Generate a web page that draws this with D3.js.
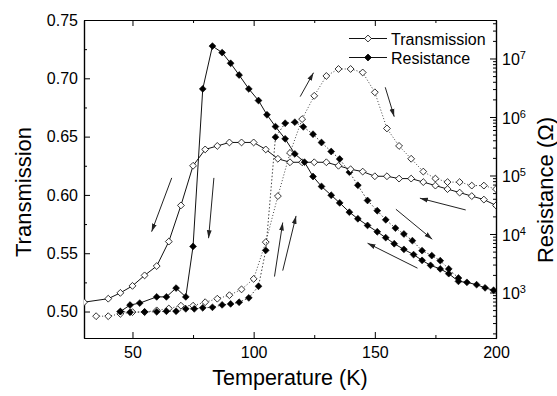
<!DOCTYPE html>
<html>
<head>
<meta charset="utf-8">
<script src="https://cdn.jsdelivr.net/npm/d3@7"></script>
<style>
  body { margin: 0; background: #fff; }
  text { font-family: "Liberation Sans", Arial, sans-serif; }
</style>
</head>
<body>
<svg id="chart"></svg>
<script>
// transmission, cooling (solid, open diamonds)
let transCoolT = [30, 40, 45, 50, 55, 60, 65, 70, 75, 80, 85, 90, 95, 100, 105, 110, 115, 120, 125, 130, 135, 140, 145, 150, 155, 160, 165, 170, 175, 180, 185, 190, 195, 200];
let transCoolV = [0.508, 0.511, 0.516, 0.522, 0.531, 0.539, 0.560, 0.591, 0.625, 0.639, 0.642, 0.645, 0.645, 0.645, 0.639, 0.631, 0.628, 0.628, 0.628, 0.628, 0.625, 0.622, 0.620, 0.616, 0.616, 0.614, 0.614, 0.611, 0.608, 0.605, 0.602, 0.599, 0.596, 0.591];

// transmission, heating (dotted, open diamonds)
let transHeatT = [35, 40, 45, 50, 55, 60, 65, 70, 75, 80, 85, 90, 95, 100, 105, 110, 115, 120, 125, 130, 135, 140, 145, 150, 155, 160, 165, 170, 175, 180, 185, 190, 195, 200];
let transHeatV = [0.496, 0.496, 0.498, 0.4995, 0.4995, 0.501, 0.5026, 0.505, 0.505, 0.508, 0.511, 0.514, 0.519, 0.528, 0.5595, 0.599, 0.636, 0.665, 0.685, 0.702, 0.708, 0.708, 0.705, 0.688, 0.657, 0.642, 0.631, 0.620, 0.614, 0.611, 0.611, 0.608, 0.608, 0.605];

// resistance, cooling (solid, filled diamonds), Ohm
let resCoolT = [45, 49, 53, 60, 64, 68, 72, 75, 79, 83, 87, 90.5, 94, 98, 102, 105.5, 109, 113, 117, 121, 124.5, 128, 132, 135.5, 139.5, 143, 147, 151, 154.5, 158, 162, 166, 169.5, 173, 177, 180.5, 184.5, 188, 192, 195.5, 199];
let resCoolR = [472, 610, 659, 841, 841, 1189, 841, 6138, 3.02e6, 1.63e7, 1.26e7, 8.28e6, 5.22e6, 3.02e6, 1.91e6, 1.09e6, 6.85e5, 4.23e5, 2.34e5, 1.69e5, 9.6e4, 6.5e4, 4.6e4, 3.4e4, 2.36e4, 1.82e4, 1.40e4, 1.09e4, 8650, 6820, 5460, 4440, 3540, 2910, 2530, 2100, 1550, 1490, 1360, 1200, 1090];

// resistance, heating (dotted, filled diamonds), Ohm
let resHeatT = [45, 49, 55, 60, 64, 68, 72, 75.5, 79, 83, 87, 90.5, 94, 98, 102, 105, 109, 113, 117, 120.5, 124.5, 128, 132, 135.5, 139.5, 143, 147, 151, 154.5, 158.5, 162, 165.5, 169.5, 173.5, 177, 180.5, 184.5];
let resHeatR = [472, 459, 467, 467, 478, 478, 525, 525, 546, 558, 614, 638, 681, 809, 1276, 5250, 4.52e5, 7.83e5, 8.15e5, 6.78e5, 5.08e5, 3.66e5, 2.57e5, 1.91e5, 1.14e5, 6.81e4, 3.74e4, 2.50e4, 1.75e4, 1.26e4, 1.0e4, 7690, 5190, 4270, 3500, 2530, 1770];

// arrows in (T, transmission) units: from -> to
let arrows = [
  [66.2, 0.6146, 57.9, 0.5685],
  [83.6, 0.6146, 81.4, 0.5629],
  [108.6, 0.5300, 112.0, 0.5763],
  [112.0, 0.5351, 117.5, 0.5820],
  [119.2, 0.6843, 124.7, 0.7048],
  [154.3, 0.6923, 158.0, 0.6671],
  [187.5, 0.5871, 168.6, 0.5972],
  [158.7, 0.5877, 173.7, 0.5620],
  [167.6, 0.5372, 147.0, 0.5586]
];

let xTicks = [50, 100, 150, 200], xMinor = [75, 125, 175];
let yTicks = [0.50, 0.55, 0.60, 0.65, 0.70, 0.75], yMinor = [0.525, 0.575, 0.625, 0.675, 0.725];
let rTicks = [1e3, 1e4, 1e5, 1e6, 1e7];

let W = 557, H = 396;
let L = 84, R = 496, T = 20, B = 338;

let svg = d3.select('#chart').attr("width", W).attr("height", H);

let x = d3.scaleLinear().domain([30, 200]).range([L, R]);
let y = d3.scaleLinear().domain([0.4773, 0.75]).range([B, T]);
let yR = d3.scaleLog().domain([Math.pow(10, 2.222), Math.pow(10, 7.658)]).range([B, T]);

svg.append("defs").append("clipPath").attr("id", "clip")
  .append("rect").attr("x", L).attr("y", T).attr("width", R - L).attr("height", B - T);

svg.select("defs").append("marker")
  .attr("id", "head")
  .attr("markerUnits", "userSpaceOnUse")
  .attr("markerWidth", 9).attr("markerHeight", 6)
  .attr("refX", 8).attr("refY", 3)
  .attr("orient", "auto")
  .append("path").attr("d", "M0,0.6 L8,3 L0,5.4 Z").attr("fill", "#222");

function styleAxis(g) {
  g.selectAll("path.domain").attr("stroke", "#000").attr("stroke-width", 1.2);
  g.selectAll(".tick line").attr("stroke", "#000").attr("stroke-width", 1);
  g.selectAll("text").attr("font-size", "16px").attr("font-family", "Liberation Sans, Arial, sans-serif").attr("fill", "#000");
}

// bottom
svg.append("g").attr("transform", `translate(0,${B})`)
  .call(d3.axisBottom(x).tickValues(xTicks).tickSize(-6).tickSizeOuter(0).tickPadding(9).tickFormat(d3.format("d")))
  .call(styleAxis);
svg.append("g").attr("transform", `translate(0,${B})`)
  .call(d3.axisBottom(x).tickValues(xMinor).tickSize(-3).tickSizeOuter(0).tickFormat(""))
  .call(styleAxis);
// top
svg.append("g").attr("transform", `translate(0,${T})`)
  .call(d3.axisTop(x).tickValues(xTicks).tickSize(-6).tickSizeOuter(0).tickFormat(""))
  .call(styleAxis);
svg.append("g").attr("transform", `translate(0,${T})`)
  .call(d3.axisTop(x).tickValues(xMinor).tickSize(-3).tickSizeOuter(0).tickFormat(""))
  .call(styleAxis);
// left
svg.append("g").attr("transform", `translate(${L},0)`)
  .call(d3.axisLeft(y).tickValues(yTicks).tickSize(-6).tickSizeOuter(0).tickPadding(6).tickFormat(d3.format(".2f")))
  .call(styleAxis);
svg.append("g").attr("transform", `translate(${L},0)`)
  .call(d3.axisLeft(y).tickValues(yMinor).tickSize(-3).tickSizeOuter(0).tickFormat(""))
  .call(styleAxis);
// right (log)
let rMinor = [];
for (let k = 2; k <= 7; k++) for (let d = 2; d <= 9; d++) {
  let v = d * Math.pow(10, k);
  if (v >= yR.domain()[0] && v <= yR.domain()[1]) rMinor.push(v);
}
let rAxis = svg.append("g").attr("transform", `translate(${R},0)`)
  .call(d3.axisRight(yR).tickValues(rTicks).tickSize(-6).tickSizeOuter(0).tickPadding(6).tickFormat(""))
  .call(styleAxis);
rAxis.selectAll(".tick text").each(function(d) {
  let t = d3.select(this).attr("dy", "0.4em");
  t.append("tspan").text("10");
  t.append("tspan").attr("dy", "-0.55em").attr("font-size", "11px").text(Math.round(Math.log10(d)));
});
svg.append("g").attr("transform", `translate(${R},0)`)
  .call(d3.axisRight(yR).tickValues(rMinor).tickSize(-3).tickSizeOuter(0).tickFormat(""))
  .call(styleAxis);

// titles
svg.append("text").attr("x", (L + R) / 2).attr("y", 385).attr("text-anchor", "middle")
  .attr("font-size", "21.5px").text("Temperature (K)");
svg.append("text").attr("transform", "translate(31,192) rotate(-90)").attr("text-anchor", "middle")
  .attr("font-size", "22px").text("Transmission");
svg.append("text").attr("transform", "translate(553,190) rotate(-90)").attr("text-anchor", "middle")
  .attr("font-size", "22px").text("Resistance (Ω)");

// curves
let plot = svg.append("g").attr("clip-path", "url(#clip)");
let diamond = d3.symbol().type(d3.symbolDiamond2).size(30);

function series(xs, ys, yScale, dash, open) {
  let pts = xs.map((t, i) => [x(t), yScale(ys[i])]);
  plot.append("path")
    .datum(pts)
    .attr("fill", "none")
    .attr("stroke", dash ? "#444" : "#111")
    .attr("stroke-width", 1)
    .attr("stroke-dasharray", dash)
    .attr("d", d3.line());
  plot.append("g").selectAll("path")
    .data(pts)
    .enter().append("path")
    .attr("transform", d => `translate(${d[0]},${d[1]})`)
    .attr("d", diamond)
    .attr("fill", open ? "#fff" : "#000")
    .attr("stroke", "#000")
    .attr("stroke-width", open ? 0.8 : 0.6);
}

series(transHeatT, transHeatV, y, "1,2", true);
series(resHeatT, resHeatR, yR, "1.5,2", false);
series(transCoolT, transCoolV, y, null, true);
series(resCoolT, resCoolR, yR, null, false);

// arrows
svg.append("g").selectAll("line")
  .data(arrows)
  .enter().append("line")
  .attr("x1", d => x(d[0])).attr("y1", d => y(d[1]))
  .attr("x2", d => x(d[2])).attr("y2", d => y(d[3]))
  .attr("stroke", "#222").attr("stroke-width", 1)
  .attr("marker-end", "url(#head)");

// legend
let legend = svg.append("g");
let legendItems = [["Transmission", true, 38.5], ["Resistance", false, 57.5]];
legendItems.forEach(item => {
  legend.append("line").attr("x1", 349).attr("x2", 387).attr("y1", item[2]).attr("y2", item[2])
    .attr("stroke", "#111").attr("stroke-width", 1);
  legend.append("path").attr("transform", `translate(368,${item[2]})`).attr("d", diamond)
    .attr("fill", item[1] ? "#fff" : "#000").attr("stroke", "#000").attr("stroke-width", 0.8);
  legend.append("text").attr("x", 391).attr("y", item[2] + 6).attr("font-size", "16px").text(item[0]);
});
</script>
</body>
</html>
